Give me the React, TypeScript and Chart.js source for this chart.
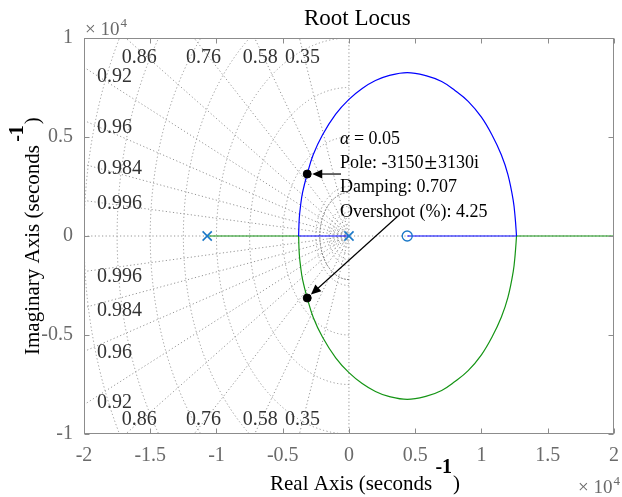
import React, { useEffect, useRef } from 'react';
import { Chart, registerables } from 'chart.js';

Chart.register(...registerables);

const SERIF = '"Liberation Serif", "Times New Roman", serif';

// axis ticks (units of 1e4 s^-1)
const X_TICKS = [-2, -1.5, -1, -0.5, 0, 0.5, 1, 1.5, 2];
const Y_TICKS = [-1, -0.5, 0, 0.5, 1];

// s-plane grid
const dampingRatios = [0.35, 0.58, 0.76, 0.86, 0.92, 0.96, 0.984, 0.996];
const dampingTopLabels = [0.86, 0.76, 0.58, 0.35];
const dampingSideLabels = [0.92, 0.96, 0.984, 0.996];
const naturalFreqs = [0.25, 0.5, 0.75, 1, 1.25, 1.5, 1.75, 2];
const fineFreqs = [0.03, 0.06, 0.09, 0.12, 0.15];
const markedFreqs = [0.22];

// open-loop poles / zeros
const poleX = [-1.07, 0];
const poleY = [0, 0];
const zeroX = [0.44];
const zeroY = [0];

// branch 1 (blue)
const blueRealAX = [0, -0.38];
const blueRealAY = [0, 0];
const upperArcX = [-0.38, -0.375, -0.365, -0.35, -0.315, -0.27, -0.2, -0.1, 0, 0.1, 0.2, 0.3, 0.44, 0.58, 0.7, 0.8, 0.9, 1.0, 1.08, 1.15, 1.2, 1.24, 1.255, 1.265];
const upperArcY = [0, 0.09, 0.155, 0.22, 0.313, 0.41, 0.51, 0.615, 0.69, 0.745, 0.785, 0.81, 0.825, 0.81, 0.78, 0.735, 0.68, 0.6, 0.51, 0.41, 0.31, 0.18, 0.09, 0];
const blueRealBX = [1.265, 0.44];
const blueRealBY = [0, 0];

// branch 2 (green)
const greenRealAX = [-1.07, -0.38];
const greenRealAY = [0, 0];
const lowerArcX = [-0.38, -0.375, -0.365, -0.35, -0.315, -0.27, -0.2, -0.1, 0, 0.1, 0.2, 0.3, 0.44, 0.58, 0.7, 0.8, 0.9, 1.0, 1.08, 1.15, 1.2, 1.24, 1.255, 1.265];
const lowerArcY = [0, -0.09, -0.155, -0.22, -0.313, -0.41, -0.51, -0.615, -0.69, -0.745, -0.785, -0.81, -0.825, -0.81, -0.78, -0.735, -0.68, -0.6, -0.51, -0.41, -0.31, -0.18, -0.09, 0];
const greenRealBX = [1.265, 2];
const greenRealBY = [0, 0];

// selected closed-loop poles (data tip)
const selectedX = [-0.315, -0.315];
const selectedY = [0.313, -0.313];
const poleText = ['Pole: -3150', '\u00b1', '3130i'];
const tipLines = ['Damping: 0.707', 'Overshoot (%): 4.25'];
const alphaValue = '0.05';

const pts = (xs: number[], ys: number[]) => xs.map((x, i) => ({ x, y: ys[i] }));

const BLUE = '#0000ff';
const GREEN = '#149414';
const MARK = '#1a78c8';

const sgridPlugin = {
  id: 'sgrid',
  beforeDatasetsDraw(chart: any) {
    const { ctx, chartArea: a, scales } = chart;
    const x = scales.x, y = scales.y;
    const ox = x.getPixelForValue(0), oy = y.getPixelForValue(0);
    const sx = x.getPixelForValue(1) - ox;
    const sy = oy - y.getPixelForValue(1);
    ctx.save();
    ctx.beginPath();
    ctx.rect(a.left, a.top, a.right - a.left, a.bottom - a.top);
    ctx.clip();
    ctx.strokeStyle = '#959595';
    ctx.lineWidth = 1;
    ctx.setLineDash([1.2, 2.4]);
    const line = (x1: number, y1: number, x2: number, y2: number) => {
      ctx.beginPath(); ctx.moveTo(x1, y1); ctx.lineTo(x2, y2); ctx.stroke();
    };
    line(a.left, oy, a.right, oy);
    line(ox, a.top, ox, a.bottom);
    dampingRatios.forEach((z) => {
      const s = Math.sqrt(1 - z * z);
      [1, -1].forEach((sg) => line(ox, oy, x.getPixelForValue(-z * 6), y.getPixelForValue(sg * s * 6)));
    });
    [...naturalFreqs, ...fineFreqs].forEach((w) => {
      ctx.beginPath();
      ctx.ellipse(ox, oy, w * sx, w * sy, 0, Math.PI / 2, Math.PI * 1.5);
      ctx.stroke();
    });
    ctx.strokeStyle = '#7a7a7a';
    ctx.setLineDash([2, 1.2]);
    markedFreqs.forEach((w) => {
      ctx.beginPath();
      ctx.ellipse(ox, oy, w * sx, w * sy, 0, Math.PI / 2, Math.PI * 1.5);
      ctx.stroke();
    });
    ctx.restore();

    // damping labels
    ctx.save();
    ctx.font = `20px ${SERIF}`;
    ctx.fillStyle = '#333333';
    ctx.textBaseline = 'middle';
    ctx.textAlign = 'center';
    dampingTopLabels.forEach((z) => {
      const s = Math.sqrt(1 - z * z);
      const yv = y.getValueForPixel(a.top + 12);
      const cx = x.getPixelForValue((-yv * z) / s);
      ctx.fillText(String(z), cx, a.top + 20);
      ctx.fillText(String(z), cx, a.bottom - 14);
    });
    ctx.textAlign = 'left';
    dampingSideLabels.forEach((z) => {
      const s = Math.sqrt(1 - z * z);
      const xv = x.getValueForPixel(a.left + 14);
      const cy = y.getPixelForValue((-xv * s) / z);
      ctx.fillText(String(z), a.left + 13, cy + 1);
      ctx.fillText(String(z), a.left + 13, 2 * oy - cy + 7);
    });
    ctx.restore();
  },
};

const drawArrow = (ctx: CanvasRenderingContext2D, x1: number, y1: number, x2: number, y2: number) => {
  const ang = Math.atan2(y2 - y1, x2 - x1);
  const hl = 10, hw = 4.5;
  ctx.beginPath();
  ctx.moveTo(x1, y1);
  ctx.lineTo(x2 - Math.cos(ang) * hl * 0.8, y2 - Math.sin(ang) * hl * 0.8);
  ctx.stroke();
  ctx.beginPath();
  ctx.moveTo(x2, y2);
  ctx.lineTo(x2 - Math.cos(ang) * hl - Math.sin(ang) * hw, y2 - Math.sin(ang) * hl + Math.cos(ang) * hw);
  ctx.lineTo(x2 - Math.cos(ang) * hl + Math.sin(ang) * hw, y2 - Math.sin(ang) * hl - Math.cos(ang) * hw);
  ctx.closePath();
  ctx.fill();
};

const overlayPlugin = {
  id: 'overlay',
  afterDraw(chart: any) {
    const { ctx, chartArea: a, scales } = chart;
    const x = scales.x, y = scales.y;
    ctx.save();
    // box and inside ticks
    ctx.strokeStyle = '#8c8c8c';
    ctx.lineWidth = 1;
    const L = Math.round(a.left) + 0.5, R = Math.round(a.right) - 0.5;
    const T = Math.round(a.top) + 0.5, B = Math.round(a.bottom) - 0.5;
    ctx.strokeRect(L, T, R - L, B - T);
    ctx.beginPath();
    X_TICKS.forEach((v) => {
      const px = Math.round(x.getPixelForValue(v)) + 0.5;
      ctx.moveTo(px, B); ctx.lineTo(px, B - 5);
      ctx.moveTo(px, T); ctx.lineTo(px, T + 5);
    });
    Y_TICKS.forEach((v) => {
      const py = Math.round(y.getPixelForValue(v)) + 0.5;
      ctx.moveTo(L, py); ctx.lineTo(L + 5, py);
      ctx.moveTo(R, py); ctx.lineTo(R - 5, py);
    });
    ctx.stroke();

    // title
    ctx.fillStyle = '#000';
    ctx.textBaseline = 'alphabetic';
    ctx.textAlign = 'left';
    ctx.font = `23px ${SERIF}`;
    ctx.fillText('Root Locus', 304, 25);

    // x axis label
    ctx.font = `21px ${SERIF}`;
    const xl = 'Real Axis (seconds ';
    let cx = 270;
    ctx.fillText(xl, cx, 490);
    cx += ctx.measureText(xl).width - 2;
    ctx.font = `bold 20px ${SERIF}`;
    ctx.fillText('-1', cx, 473);
    cx += ctx.measureText('-1').width + 1;
    ctx.font = `21px ${SERIF}`;
    ctx.fillText(')', cx, 490);

    // y axis label
    ctx.save();
    ctx.translate(39, 355);
    ctx.rotate(-Math.PI / 2);
    const yl = 'Imaginary Axis (seconds ';
    let cy = 0;
    ctx.fillText(yl, cy, 0);
    cy += ctx.measureText(yl).width - 2;
    ctx.font = `bold 20px ${SERIF}`;
    ctx.fillText('-1', cy, -16);
    cy += ctx.measureText('-1').width + 1;
    ctx.font = `21px ${SERIF}`;
    ctx.fillText(')', cy, 0);
    ctx.restore();

    // exponent labels
    ctx.fillStyle = '#6a6a6a';
    const expo = (x0: number, base: number) => {
      ctx.font = `19px ${SERIF}`;
      ctx.fillText('\u00d7', x0, base);
      let xx = x0 + ctx.measureText('\u00d7 ').width;
      ctx.fillText('10', xx, base);
      xx += ctx.measureText('10').width + 1;
      ctx.font = `13px ${SERIF}`;
      ctx.fillText('4', xx, base - 8);
    };
    expo(85, 35);
    expo(578, 493);

    // data tip annotation
    const px = x.getPixelForValue(selectedX[0]);
    const pyU = y.getPixelForValue(selectedY[0]);
    const pyL = y.getPixelForValue(selectedY[1]);
    const tx = 340;
    ctx.fillStyle = '#000';
    ctx.font = `italic 18px ${SERIF}`;
    ctx.fillText('\u03b1', tx, 144);
    const aw = ctx.measureText('\u03b1').width;
    ctx.font = `18px ${SERIF}`;
    ctx.fillText(' = ' + alphaValue, tx + aw, 144);
    let pxx = tx;
    ctx.fillText(poleText[0], pxx, 168);
    pxx += ctx.measureText(poleText[0]).width + 1;
    ctx.font = `23px ${SERIF}`;
    ctx.fillText(poleText[1], pxx, 169);
    pxx += ctx.measureText(poleText[1]).width + 1;
    ctx.font = `18px ${SERIF}`;
    ctx.fillText(poleText[2], pxx, 168);
    tipLines.forEach((t, i) => ctx.fillText(t, tx, 192.3 + i * 24.3));

    ctx.strokeStyle = '#000';
    ctx.fillStyle = '#000';
    ctx.lineWidth = 1.2;
    const u = { x: tx + 1, y: pyU };
    const angU = Math.atan2(pyU - u.y, px - u.x);
    drawArrow(ctx, u.x, u.y, px - Math.cos(angU) * 5, pyU - Math.sin(angU) * 5);
    const l = { x: 398, y: 216 };
    const angL = Math.atan2(pyL - l.y, px - l.x);
    drawArrow(ctx, l.x, l.y, px - Math.cos(angL) * 5, pyL - Math.sin(angL) * 5);
    ctx.restore();
  },
};

export default function App() {
  const ref = useRef<HTMLCanvasElement>(null);
  useEffect(() => {
    const canvas = ref.current!;
    const lineDs = (data: any, color: string, tension = 0) => ({
      data, showLine: true, borderColor: color, borderWidth: 1.2, pointRadius: 0, tension, fill: false,
    });
    const chart = new Chart(canvas, {
      type: 'scatter',
      data: {
        datasets: [
          { data: pts(selectedX, selectedY), pointRadius: 4, pointBackgroundColor: '#000', pointBorderColor: '#000', showLine: false },
          { data: pts(poleX, poleY), pointStyle: 'crossRot', pointRadius: 6.5, pointBorderColor: MARK, pointBorderWidth: 1.6, showLine: false },
          { data: pts(zeroX, zeroY), pointStyle: 'circle', pointRadius: 5, pointBorderColor: MARK, pointBackgroundColor: 'rgba(0,0,0,0)', pointBorderWidth: 1.3, showLine: false },
          lineDs(pts(upperArcX, upperArcY), BLUE, 0.4),
          lineDs(pts(blueRealAX, blueRealAY), BLUE),
          lineDs(pts(blueRealBX, blueRealBY), BLUE),
          lineDs(pts(lowerArcX, lowerArcY), GREEN, 0.4),
          lineDs(pts(greenRealAX, greenRealAY), GREEN),
          lineDs(pts(greenRealBX, greenRealBY), GREEN),
        ] as any,
      },
      options: {
        responsive: false,
        animation: false,
        events: [],
        layout: { padding: { left: 0, top: 38, right: 4, bottom: 0 } },
        plugins: { legend: { display: false }, tooltip: { enabled: false }, title: { display: false } },
        scales: {
          x: {
            type: 'linear', min: -2, max: 2,
            grid: { display: false }, border: { display: false },
            ticks: { font: { family: SERIF, size: 20 }, color: '#6a6a6a', padding: 2, autoSkip: false, maxRotation: 0, callback: (v: any) => String(v) },
            afterBuildTicks: (s: any) => { s.ticks = X_TICKS.map((v) => ({ value: v })); },
            afterFit: (s: any) => { s.height = 63; s.paddingLeft = 0; s.paddingRight = 0; },
          },
          y: {
            type: 'linear', min: -1, max: 1,
            grid: { display: false }, border: { display: false },
            ticks: { font: { family: SERIF, size: 20 }, color: '#6a6a6a', padding: 3, autoSkip: false, callback: (v: any) => String(v) },
            afterBuildTicks: (s: any) => { s.ticks = Y_TICKS.map((v) => ({ value: v })); },
            afterFit: (s: any) => { s.width = 84; s.paddingTop = 0; s.paddingBottom = 0; },
          },
        },
      } as any,
      plugins: [sgridPlugin, overlayPlugin],
    });
    return () => chart.destroy();
  }, []);
  return (
    <div style={{ position: 'absolute', left: 0, top: 0, width: 622, height: 497, background: '#fff' }}>
      <canvas ref={ref} width={622} height={497} style={{ width: 622, height: 497, display: 'block' }} />
    </div>
  );
}
